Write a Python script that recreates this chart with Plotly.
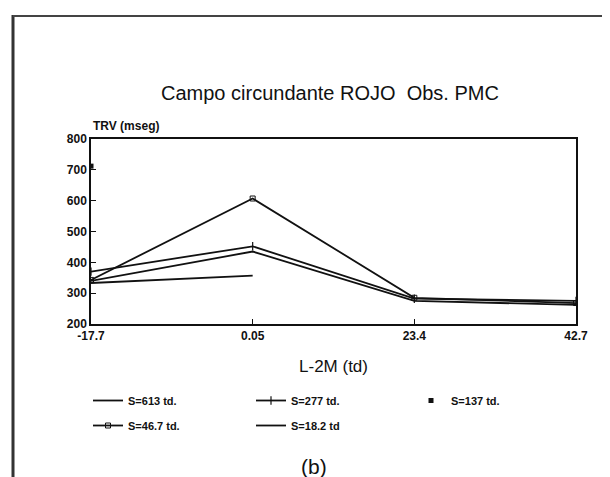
import plotly.graph_objects as go

categories = ["-17.7", "0.05", "23.4", "42.7"]

s613 = [340, 435, 275, 262]
s277 = [370, 452, 282, 275]
s137 = [712, None, None, None]
s467 = [343, 607, 285, 268]
s182 = [333, 357, None, None]

title_text = "Campo circundante ROJO  Obs. PMC"
y_label = "TRV (mseg)"
x_label = "L-2M (td)"
panel_label = "(b)"

FONT = "Liberation Sans, Arial, sans-serif"
BLACK = "#111111"

fig = go.Figure()

fig.add_trace(go.Scatter(x=categories, y=s613, name="S=613 td.", mode="lines",
                         line=dict(color=BLACK, width=1.8), legend="legend", legendgroup="a"))
fig.add_trace(go.Scatter(x=categories, y=s467, name="S=46.7 td.", mode="lines+markers",
                         line=dict(color=BLACK, width=1.8),
                         marker=dict(symbol="square-open", size=5, color=BLACK, line=dict(width=1)),
                         legend="legend", legendgroup="b"))
fig.add_trace(go.Scatter(x=categories, y=s277, name="S=277 td.", mode="lines+markers",
                         line=dict(color=BLACK, width=1.8),
                         marker=dict(symbol="line-ns", size=6, color=BLACK, line=dict(width=1.2, color=BLACK)),
                         legend="legend2", legendgroup="c"))
fig.add_trace(go.Scatter(x=categories, y=s182, name="S=18.2 td", mode="lines",
                         line=dict(color=BLACK, width=1.8), legend="legend2", legendgroup="d"))
fig.add_trace(go.Scatter(x=categories, y=s137, name="S=137 td.", mode="markers",
                         marker=dict(symbol="square", size=5, color=BLACK),
                         legend="legend3", legendgroup="e"))

leg_common = dict(font=dict(family=FONT, size=11, color=BLACK, weight="bold"),
                  bgcolor="rgba(0,0,0,0)", xanchor="left", yanchor="top",
                  orientation="v", tracegroupgap=6, itemwidth=30)

# plot area: x 83..568 px, y 131..316 px
def px_x(p):
    return (p - 83) / 485.0

def px_y(p):
    return (316 - p) / 185.0

fig.update_layout(
    width=610, height=477,
    margin=dict(l=83, r=42, t=131, b=161, pad=0),
    paper_bgcolor="white", plot_bgcolor="white",
    font=dict(family=FONT, color=BLACK),
    showlegend=True,
    legend=dict(x=px_x(80), y=px_y(378), **leg_common),
    legend2=dict(x=px_x(243), y=px_y(378), **leg_common),
    legend3=dict(x=px_x(403), y=px_y(378), **leg_common),
    xaxis=dict(type="category", categoryorder="array", categoryarray=categories,
               range=[0, 3], showline=True, linecolor=BLACK, linewidth=1.5, mirror=True,
               ticks="inside", ticklen=5, tickcolor=BLACK, showgrid=False, zeroline=False,
               tickfont=dict(family=FONT, size=12, color=BLACK, weight="bold"),
               title=dict(text=x_label, font=dict(family=FONT, size=17, color=BLACK), standoff=18)),
    yaxis=dict(range=[200, 800], dtick=100, showline=True, linecolor=BLACK, linewidth=1.5,
               mirror=True, ticks="inside", ticklen=5, tickcolor=BLACK, showgrid=False,
               zeroline=False,
               tickfont=dict(family=FONT, size=12, color=BLACK, weight="bold")),
    annotations=[
        dict(text=title_text, xref="paper", yref="paper", x=px_x(322), y=px_y(85),
             xanchor="center", yanchor="middle", showarrow=False,
             font=dict(family=FONT, size=20, color=BLACK)),
        dict(text=y_label, xref="paper", yref="paper", x=px_x(83), y=px_y(118),
             xanchor="left", yanchor="middle", showarrow=False,
             font=dict(family=FONT, size=12, color=BLACK, weight="bold")),
        dict(text=panel_label, xref="paper", yref="paper", x=px_x(306), y=px_y(458),
             xanchor="center", yanchor="middle", showarrow=False,
             font=dict(family=FONT, size=21, color=BLACK)),
    ],
    shapes=[
        dict(type="line", xref="paper", yref="paper", x0=px_x(5), x1=px_x(5),
             y0=px_y(7), y1=px_y(477), line=dict(color="#333333", width=3)),
        dict(type="line", xref="paper", yref="paper", x0=px_x(5), x1=px_x(608),
             y0=px_y(8), y1=px_y(8), line=dict(color="#444444", width=2)),
    ],
)

fig.write_html("out.html")
